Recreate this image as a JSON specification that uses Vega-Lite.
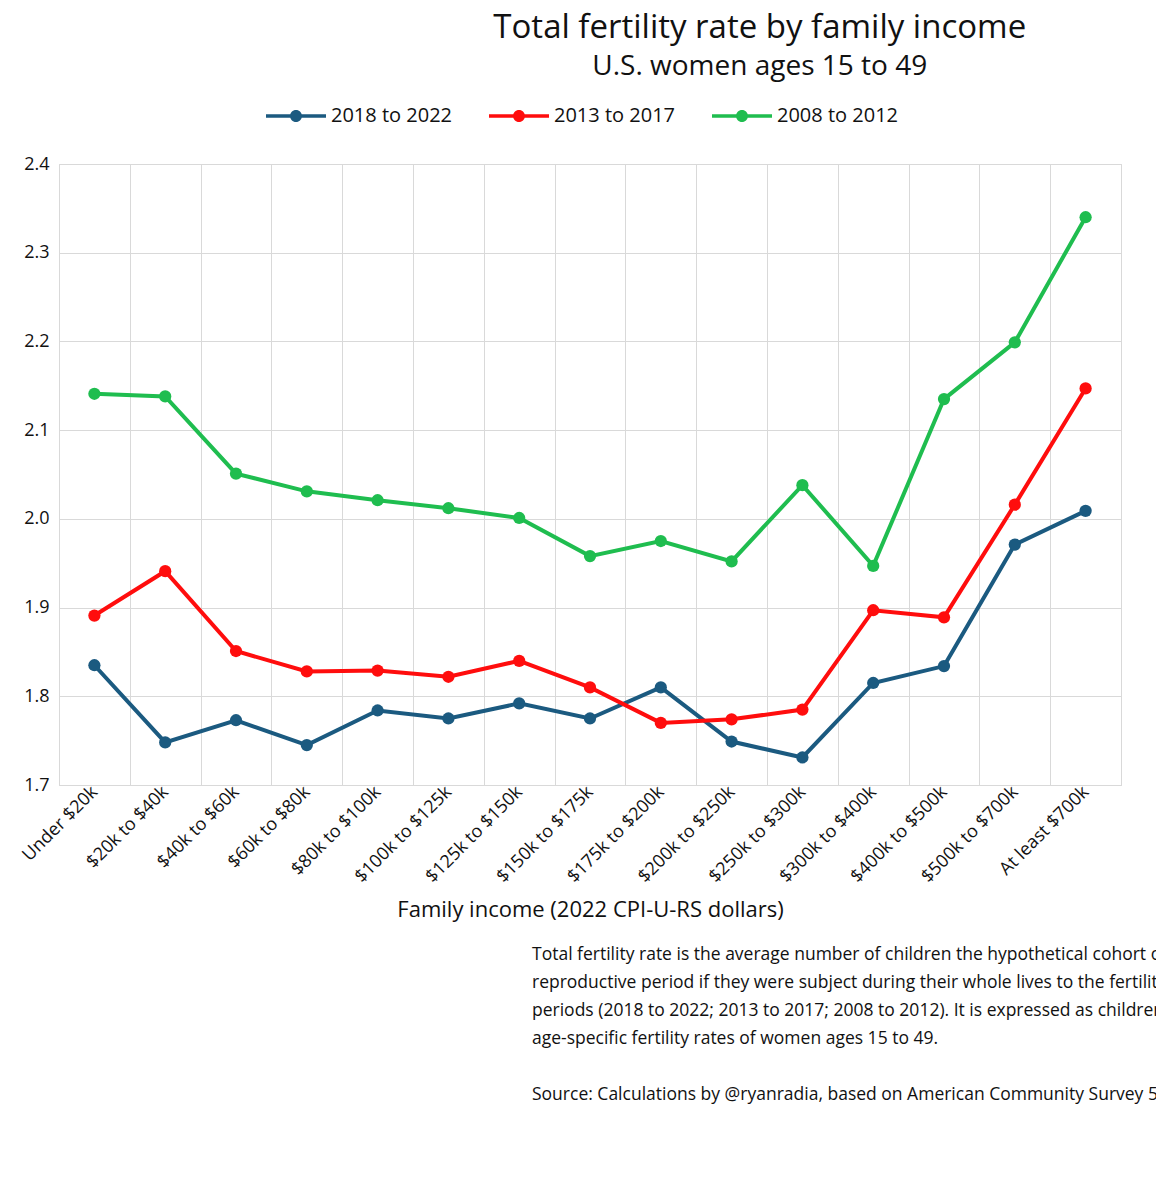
{
  "$schema": "https://vega.github.io/schema/vega-lite/v6.json",
  "padding": {"left": 18, "top": 12, "right": 18, "bottom": 10},
  "background": "white",
  "title": {
    "text": "Total fertility rate by family income",
    "subtitle": "U.S. women ages 15 to 49",
    "font": "Open Sans",
    "fontSize": 33,
    "fontWeight": "normal",
    "subtitleFont": "Open Sans",
    "subtitleFontSize": 28,
    "subtitlePadding": 8,
    "color": "#111",
    "subtitleColor": "#111",
    "anchor": "middle",
    "offset": 20
  },
  "config": {
    "view": {"stroke": "#d9d9d9"},
    "font": "Open Sans",
    "legend": {"layout": {"top": {"anchor": "middle"}}}
  },
  "spacing": 24,
  "vconcat": [
    {
      "width": 1062,
      "height": 621,
      "data": {
        "values": [
          {"income": "Under $20k", "period": "2018 to 2022", "tfr": 1.835},
          {"income": "$20k to $40k", "period": "2018 to 2022", "tfr": 1.748},
          {"income": "$40k to $60k", "period": "2018 to 2022", "tfr": 1.773},
          {"income": "$60k to $80k", "period": "2018 to 2022", "tfr": 1.745},
          {"income": "$80k to $100k", "period": "2018 to 2022", "tfr": 1.784},
          {"income": "$100k to $125k", "period": "2018 to 2022", "tfr": 1.775},
          {"income": "$125k to $150k", "period": "2018 to 2022", "tfr": 1.792},
          {"income": "$150k to $175k", "period": "2018 to 2022", "tfr": 1.775},
          {"income": "$175k to $200k", "period": "2018 to 2022", "tfr": 1.81},
          {"income": "$200k to $250k", "period": "2018 to 2022", "tfr": 1.749},
          {"income": "$250k to $300k", "period": "2018 to 2022", "tfr": 1.731},
          {"income": "$300k to $400k", "period": "2018 to 2022", "tfr": 1.815},
          {"income": "$400k to $500k", "period": "2018 to 2022", "tfr": 1.834},
          {"income": "$500k to $700k", "period": "2018 to 2022", "tfr": 1.971},
          {"income": "At least $700k", "period": "2018 to 2022", "tfr": 2.009},
          {"income": "Under $20k", "period": "2013 to 2017", "tfr": 1.891},
          {"income": "$20k to $40k", "period": "2013 to 2017", "tfr": 1.941},
          {"income": "$40k to $60k", "period": "2013 to 2017", "tfr": 1.851},
          {"income": "$60k to $80k", "period": "2013 to 2017", "tfr": 1.828},
          {"income": "$80k to $100k", "period": "2013 to 2017", "tfr": 1.829},
          {"income": "$100k to $125k", "period": "2013 to 2017", "tfr": 1.822},
          {"income": "$125k to $150k", "period": "2013 to 2017", "tfr": 1.84},
          {"income": "$150k to $175k", "period": "2013 to 2017", "tfr": 1.81},
          {"income": "$175k to $200k", "period": "2013 to 2017", "tfr": 1.77},
          {"income": "$200k to $250k", "period": "2013 to 2017", "tfr": 1.774},
          {"income": "$250k to $300k", "period": "2013 to 2017", "tfr": 1.785},
          {"income": "$300k to $400k", "period": "2013 to 2017", "tfr": 1.897},
          {"income": "$400k to $500k", "period": "2013 to 2017", "tfr": 1.889},
          {"income": "$500k to $700k", "period": "2013 to 2017", "tfr": 2.016},
          {"income": "At least $700k", "period": "2013 to 2017", "tfr": 2.147},
          {"income": "Under $20k", "period": "2008 to 2012", "tfr": 2.141},
          {"income": "$20k to $40k", "period": "2008 to 2012", "tfr": 2.138},
          {"income": "$40k to $60k", "period": "2008 to 2012", "tfr": 2.051},
          {"income": "$60k to $80k", "period": "2008 to 2012", "tfr": 2.031},
          {"income": "$80k to $100k", "period": "2008 to 2012", "tfr": 2.021},
          {"income": "$100k to $125k", "period": "2008 to 2012", "tfr": 2.012},
          {"income": "$125k to $150k", "period": "2008 to 2012", "tfr": 2.001},
          {"income": "$150k to $175k", "period": "2008 to 2012", "tfr": 1.958},
          {"income": "$175k to $200k", "period": "2008 to 2012", "tfr": 1.975},
          {"income": "$200k to $250k", "period": "2008 to 2012", "tfr": 1.952},
          {"income": "$250k to $300k", "period": "2008 to 2012", "tfr": 2.038},
          {"income": "$300k to $400k", "period": "2008 to 2012", "tfr": 1.947},
          {"income": "$400k to $500k", "period": "2008 to 2012", "tfr": 2.135},
          {"income": "$500k to $700k", "period": "2008 to 2012", "tfr": 2.199},
          {"income": "At least $700k", "period": "2008 to 2012", "tfr": 2.34}
        ]
      },
      "encoding": {
        "x": {
          "field": "income",
          "type": "nominal",
          "sort": null,
          "scale": {"type": "band", "paddingInner": 0, "paddingOuter": 0},
          "axis": {
            "title": "Family income (2022 CPI-U-RS dollars)",
            "titleFontSize": 22,
            "titleFontWeight": "normal",
            "titleColor": "#111",
            "titlePadding": 14,
            "labelAngle": -45,
            "labelAlign": "right",
            "labelBaseline": "middle",
            "labelFontSize": 18,
            "labelColor": "#111",
            "labelPadding": 4,
            "tickBand": "extent",
            "grid": true,
            "gridColor": "#d9d9d9",
            "domainColor": "#d9d9d9",
            "tickColor": "#d9d9d9",
            "tickSize": 0
          }
        },
        "y": {
          "field": "tfr",
          "type": "quantitative",
          "scale": {"domain": [1.7, 2.4], "zero": false, "nice": false},
          "axis": {
            "title": null,
            "values": [1.7, 1.8, 1.9, 2.0, 2.1, 2.2, 2.3, 2.4],
            "format": ".1f",
            "labelFontSize": 18,
            "labelColor": "#111",
            "labelPadding": 10,
            "gridColor": "#d9d9d9",
            "domain": false,
            "ticks": false
          }
        },
        "color": {
          "field": "period",
          "type": "nominal",
          "scale": {
            "domain": ["2018 to 2022", "2013 to 2017", "2008 to 2012"],
            "range": ["#1b5a80", "#ff0d0d", "#1fbd4f"]
          },
          "legend": {
            "orient": "top",
            "title": null,
            "direction": "horizontal",
            "labelFontSize": 20,
            "labelColor": "#111",
            "symbolType": "M-2,-0.12H2V0.12H-2Z M0.4,0 A0.4,0.4 0 1,1 -0.4,0 A0.4,0.4 0 1,1 0.4,0Z",
            "symbolSize": 900,
            "symbolStrokeWidth": 0,
            "columnPadding": 36,
            "labelOffset": 20,
            "offset": 28
          }
        }
      },
      "layer": [
        {"mark": {"type": "line", "strokeWidth": 4}},
        {"mark": {"type": "point", "filled": true, "size": 150, "opacity": 1}}
      ]
    },
    {
      "width": 1062,
      "height": 140,
      "data": {
        "values": [
          {"i": 1, "t": "Total fertility rate is the average number of children the hypothetical cohort of women would have at the end of their"},
          {"i": 2, "t": "reproductive period if they were subject during their whole lives to the fertility rates of U.S. women during these three"},
          {"i": 3, "t": "periods (2018 to 2022; 2013 to 2017; 2008 to 2012). It is expressed as children per woman. It is calculated as the sum of"},
          {"i": 4, "t": "age-specific fertility rates of women ages 15 to 49."},
          {"i": 5, "t": ""},
          {"i": 6, "t": "Source: Calculations by @ryanradia, based on American Community Survey 5-year estimates (via IPUMS-USA)"}
        ]
      },
      "view": {"stroke": null},
      "mark": {"type": "text", "align": "left", "dx": -58, "fontSize": 17.5, "color": "#111", "baseline": "middle"},
      "encoding": {
        "y": {"field": "i", "type": "ordinal", "axis": null, "scale": {"type": "point", "padding": 0}},
        "text": {"field": "t"}
      }
    }
  ]
}
